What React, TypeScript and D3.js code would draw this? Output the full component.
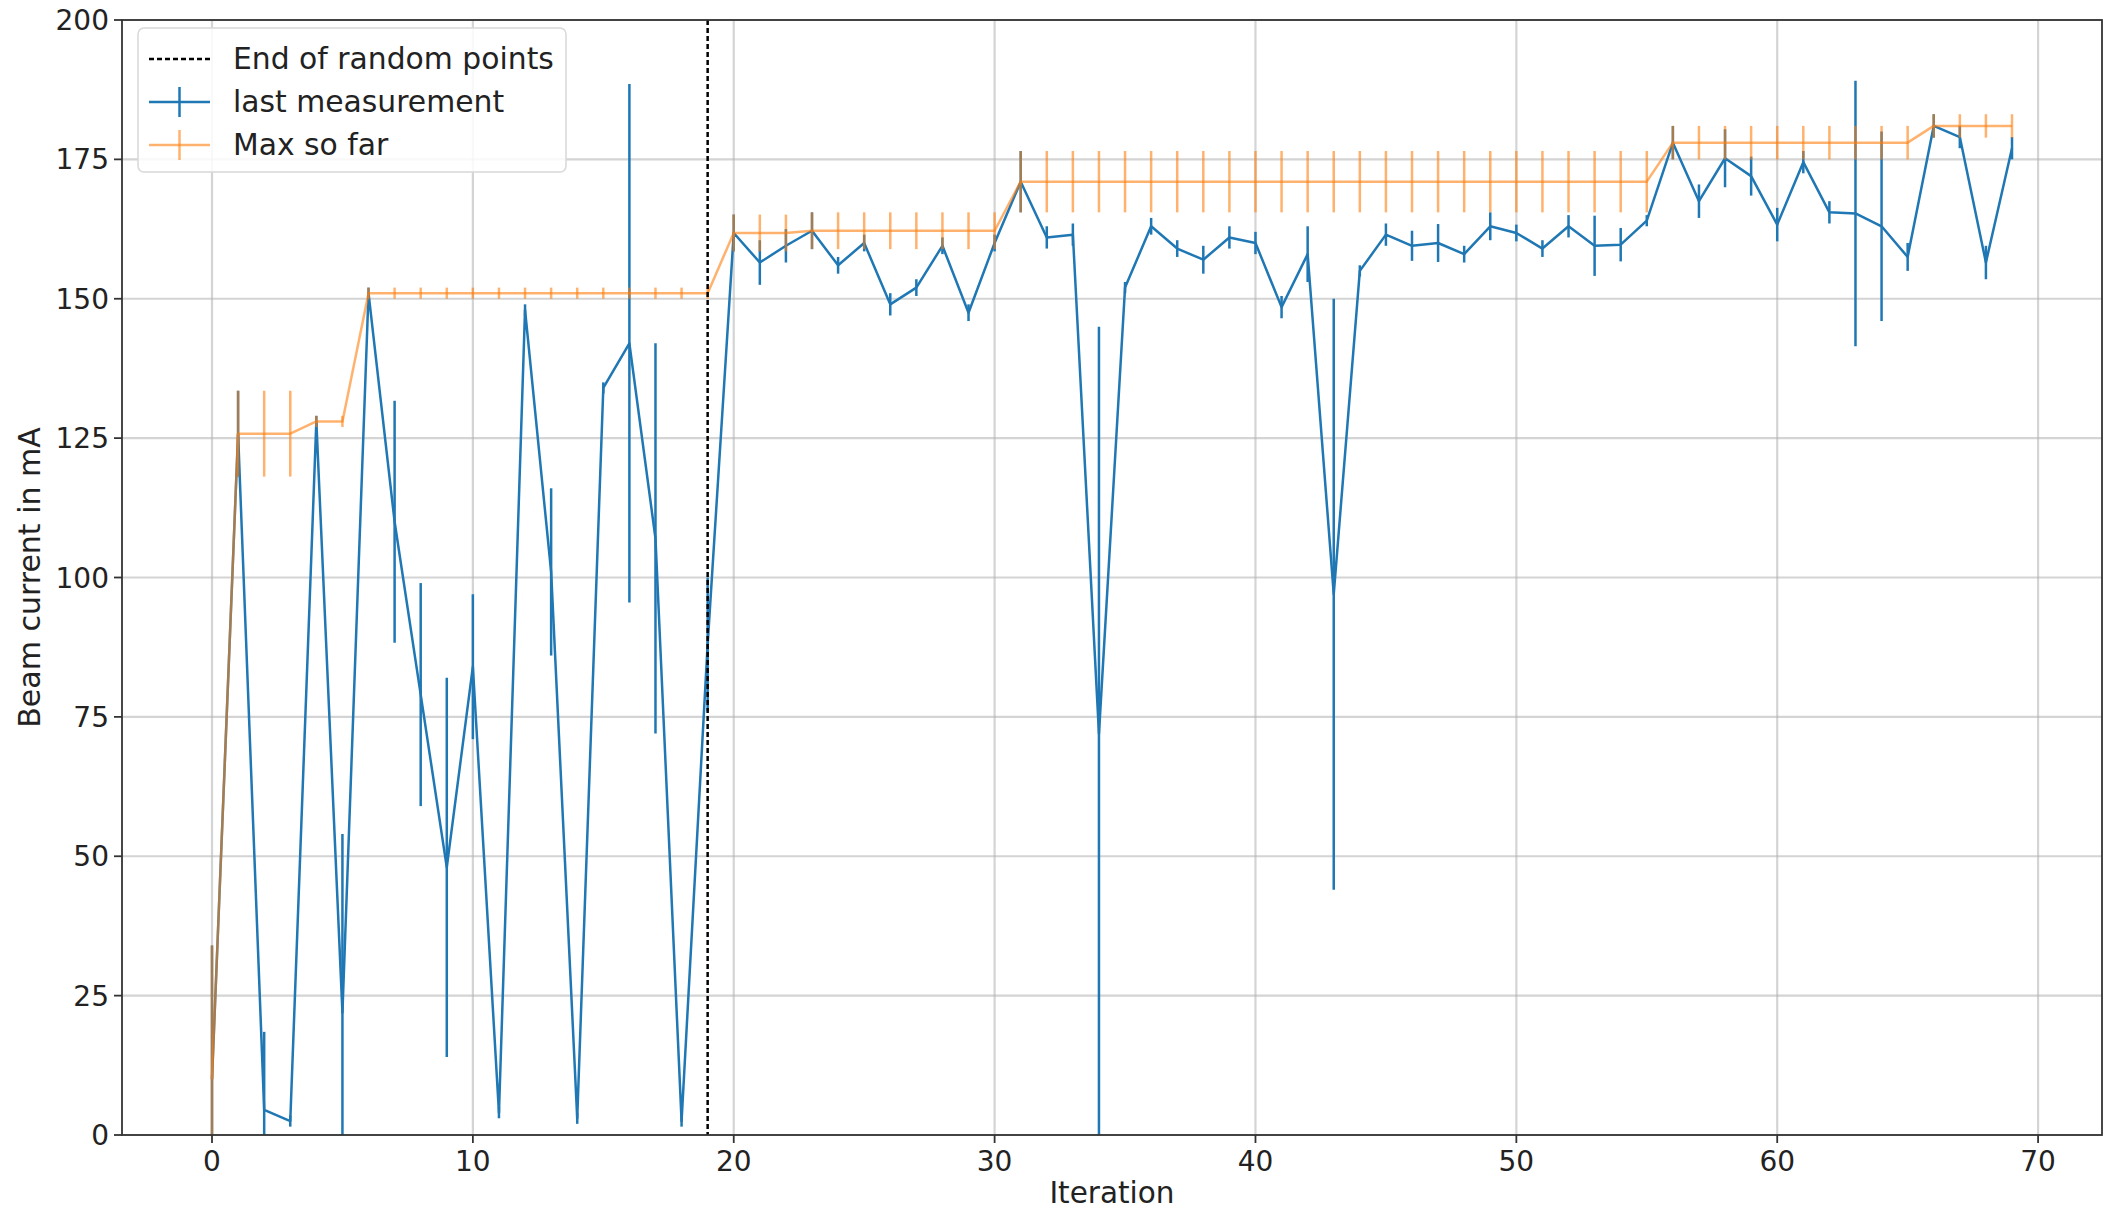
import React from 'react';
import * as d3 from 'd3';

const lastMeasurement = [
  10, 125.8, 4.5, 2.5, 128, 22, 151, 110, 79, 48,
  84, 4, 148, 101, 3, 134, 142, 107, 2.5, 88,
  161.8, 156.5, 159.5, 162.2, 156, 160, 149, 152, 159.5, 147.5,
  160, 171, 161, 161.5, 72, 152, 163, 159, 157, 161,
  160, 148.5, 158, 97, 155, 161.5, 159.5, 160, 158, 163,
  161.8, 159, 163, 159.5, 159.7, 164, 178, 167.5, 175.2, 172,
  163.3, 174.5, 165.5, 165.3, 163, 157.5, 181, 179, 156.5, 177,
];
const lastMeasurementErr = [
  24, 7.7, 14, 1, 1, 32, 1, 21.7, 20, 34,
  13, 1, 1, 15, 1, 1, 46.5, 35, 1, 12,
  3.3, 4, 3, 3.3, 1.5, 1.5, 2, 1.5, 1.5, 1.5,
  1.5, 5.5, 2, 2, 73, 1, 1.5, 1.5, 2.5, 2,
  2, 2, 5, 53, 1, 2, 2.7, 3.4, 1.5, 2.5,
  1.5, 1.5, 2, 5.4, 3, 1, 3, 3, 5.2, 3.5,
  3, 2, 2, 23.8, 17, 2.5, 2.1, 2, 3, 2,
];
const maxSoFar = [
  10, 125.8, 125.8, 125.8, 128, 128, 151, 151, 151, 151,
  151, 151, 151, 151, 151, 151, 151, 151, 151, 151,
  161.8, 161.8, 161.8, 162.2, 162.2, 162.2, 162.2, 162.2, 162.2, 162.2,
  162.2, 171, 171, 171, 171, 171, 171, 171, 171, 171,
  171, 171, 171, 171, 171, 171, 171, 171, 171, 171,
  171, 171, 171, 171, 171, 171, 178, 178, 178, 178,
  178, 178, 178, 178, 178, 178, 181, 181, 181, 181,
];
const maxSoFarErr = [
  24, 7.7, 7.7, 7.7, 1, 1, 1, 1, 1, 1,
  1, 1, 1, 1, 1, 1, 1, 1, 1, 1,
  3.3, 3.3, 3.3, 3.3, 3.3, 3.3, 3.3, 3.3, 3.3, 3.3,
  3.3, 5.5, 5.5, 5.5, 5.5, 5.5, 5.5, 5.5, 5.5, 5.5,
  5.5, 5.5, 5.5, 5.5, 5.5, 5.5, 5.5, 5.5, 5.5, 5.5,
  5.5, 5.5, 5.5, 5.5, 5.5, 5.5, 3, 3, 3, 3,
  3, 3, 3, 3, 3, 3, 2.1, 2.1, 2.1, 2.1,
];
const endOfRandom = 19;
const xTicks = [0, 10, 20, 30, 40, 50, 60, 70];
const yTicks = [0, 25, 50, 75, 100, 125, 150, 175, 200];
const legendLabels = ['End of random points', 'last measurement', 'Max so far'];

const W = 2104;
const H = 1211;
const FONT = 'DejaVu Sans, sans-serif';
const BLUE = '#1f77b4';
const ORANGE = '#ff7f0e';

export default function App() {
  const iters = lastMeasurement.map((_, i) => i);
  const x = d3.scaleLinear().domain([-3.45, 72.45]).range([122, 2102]);
  const y = d3.scaleLinear().domain([0, 200]).range([1135, 20]);
  const [x0, x1] = x.range();
  const [yb, yt] = y.range();

  const line = d3
    .line<number>()
    .x((_, i) => x(iters[i]))
    .y((d) => y(d));

  const series = [
    { vals: lastMeasurement, errs: lastMeasurementErr, color: BLUE, op: 1 },
    { vals: maxSoFar, errs: maxSoFarErr, color: ORANGE, op: 0.6 },
  ];

  return (
    <svg
      width={W}
      height={H}
      style={{ position: 'absolute', left: 0, top: 0, background: '#fff' }}
      fontFamily={FONT}
    >
      <defs>
        <clipPath id="plotclip">
          <rect x={x0} y={yt} width={x1 - x0} height={yb - yt} />
        </clipPath>
      </defs>
      <rect x={0} y={0} width={W} height={H} fill="#fff" />
      {/* grid */}
      <g stroke="#b0b0b0" strokeOpacity={0.55} strokeWidth={2.2}>
        {xTicks.map((t) => (
          <line key={'gx' + t} x1={x(t)} x2={x(t)} y1={yt} y2={yb} />
        ))}
        {yTicks.map((t) => (
          <line key={'gy' + t} x1={x0} x2={x1} y1={y(t)} y2={y(t)} />
        ))}
      </g>
      <g clipPath="url(#plotclip)">
        {series.map((s, si) => (
          <g key={si}>
            <path
              d={line(s.vals) || ''}
              fill="none"
              stroke={s.color}
              strokeOpacity={s.op}
              strokeWidth={2.5}
              strokeLinejoin="round"
            />
            {s.vals.map((v, i) => (
              <line
                key={i}
                x1={x(iters[i])}
                x2={x(iters[i])}
                y1={y(v - s.errs[i])}
                y2={y(v + s.errs[i])}
                stroke={s.color}
                strokeOpacity={s.op}
                strokeWidth={2.5}
              />
            ))}
          </g>
        ))}
        <line
          x1={x(endOfRandom)}
          x2={x(endOfRandom)}
          y1={yt}
          y2={yb}
          stroke="#000"
          strokeWidth={2.5}
          strokeDasharray="5,3"
        />
      </g>
      {/* spines */}
      <rect x={x0} y={yt} width={x1 - x0} height={yb - yt} fill="none" stroke="#333" strokeWidth={1.8} />
      {/* x ticks */}
      {xTicks.map((t) => (
        <g key={'xt' + t}>
          <line x1={x(t)} x2={x(t)} y1={yb} y2={yb + 8} stroke="#333" strokeWidth={1.8} />
          <text x={x(t)} y={yb + 36} textAnchor="middle" fontSize={28} fill="#222">
            {t}
          </text>
        </g>
      ))}
      {yTicks.map((t) => (
        <g key={'yt' + t}>
          <line x1={x0 - 8} x2={x0} y1={y(t)} y2={y(t)} stroke="#333" strokeWidth={1.8} />
          <text x={x0 - 13} y={y(t) + 10} textAnchor="end" fontSize={28} fill="#222">
            {t}
          </text>
        </g>
      ))}
      <text x={(x0 + x1) / 2} y={1203} textAnchor="middle" fontSize={29.5} fill="#222">
        Iteration
      </text>
      <text
        transform={`translate(40, ${(yt + yb) / 2}) rotate(-90)`}
        textAnchor="middle"
        fontSize={30}
        fill="#222"
      >
        Beam current in mA
      </text>
      {/* legend */}
      <g>
        <rect x={138} y={28} width={428} height={144} rx={6} fill="#fff" fillOpacity={0.85} stroke="#d8d8d8" strokeWidth={1.5} />
        {legendLabels.map((lab, i) => {
          const cy = 59 + i * 43;
          return (
            <g key={lab}>
              {i === 0 ? (
                <line x1={149} x2={210} y1={cy} y2={cy} stroke="#000" strokeWidth={2.5} strokeDasharray="5,3" />
              ) : (
                <g stroke={i === 1 ? BLUE : ORANGE} strokeOpacity={i === 1 ? 1 : 0.6} strokeWidth={2.5}>
                  <line x1={149} x2={210} y1={cy} y2={cy} />
                  <line x1={179.5} x2={179.5} y1={cy - 15} y2={cy + 15} />
                </g>
              )}
              <text x={233} y={cy + 10} fontSize={29.8} fill="#222">
                {lab}
              </text>
            </g>
          );
        })}
      </g>
    </svg>
  );
}
